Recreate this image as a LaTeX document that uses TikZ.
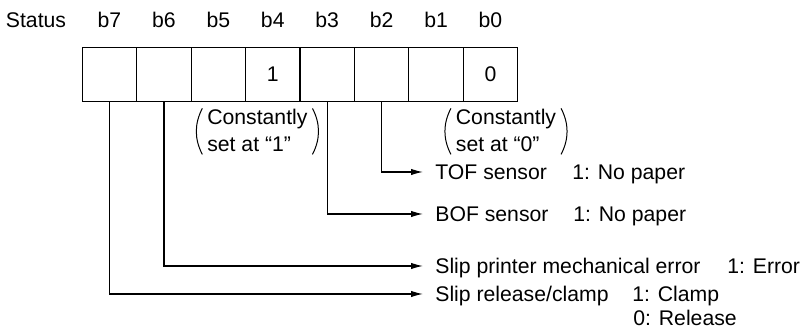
\documentclass[tikz,border=0pt]{standalone}
\usepackage{fontspec}
\setmainfont{Liberation Sans}
\usetikzlibrary{arrows.meta}

\tikzset{
  cell/.style={draw, line width=0.6pt, minimum width=27.2pt, minimum height=27pt, inner sep=0pt},
  hdr/.style={inner sep=0pt},
  desc/.style={anchor=west, inner xsep=6pt, inner ysep=0pt, text height=7.5pt, text depth=0pt},
  val/.style={anchor=west, inner sep=0pt, text height=7.5pt, text depth=0pt},
  note/.style={inner xsep=5.3pt, inner ysep=0pt, align=left},
  paren/.style={line width=0.5pt},
  wire/.style={line width=0.6pt, -{Latex[length=6pt,width=3.2pt]}},
}

\begin{document}
\begin{tikzpicture}[x=0.5pt, y=-0.5pt]
  \fontsize{10.6}{13.5}\selectfont
  \useasboundingbox (0,0) rectangle (800,330);

  % status byte, b7 at the left
  \node[hdr] (hs) at (36,20) {Status};
  \foreach \i/\v in {7/,6/,5/,4/1,3/,2/,1/,0/0} {
    \node[cell] (c\i) at ({490.5-54.43*\i},74.7) {\v};
    \node[hdr]  (h\i) at ({490.5-54.43*\i},20) {b\i};
  }

  % fixed bits, with thin brackets round them
  \node[note] (n4) at (257.4,132.4) {\begin{tabular}{@{}l@{}}Constantly\\set at “1”\end{tabular}};
  \node[note] (n0) at (506,132.4) {\begin{tabular}{@{}l@{}}Constantly\\set at “0”\end{tabular}};
  \foreach \n in {n4,n0} {
    \draw[paren] ([xshift=3pt,yshift=12pt]\n.west) .. controls ([xshift=-1pt,yshift=4.3pt]\n.west) and ([xshift=-1pt,yshift=-3.3pt]\n.west) .. ([xshift=3pt,yshift=-11pt]\n.west);
    \draw[paren] ([xshift=-3pt,yshift=12pt]\n.east) .. controls ([xshift=1pt,yshift=4.3pt]\n.east) and ([xshift=1pt,yshift=-3.3pt]\n.east) .. ([xshift=-3pt,yshift=-11pt]\n.east);
  }

  % bit meanings
  \node[desc] (tof) at (423,172) {TOF sensor};
  \node[val]  (tofv) at (572,172) {1: No paper};
  \node[desc] (bof) at (423,214) {BOF sensor};
  \node[val]  (bofv) at (573,214) {1: No paper};
  \node[desc] (mech) at (423,266) {Slip printer mechanical error};
  \node[val]  (mechv) at (727,266) {1: Error};
  \node[desc] (clamp) at (423,294) {Slip release/clamp};
  \node[val]  (clampv) at (632,294) {1: Clamp};
  \node[val]  (relv) at (633,318) {0: Release};

  \draw[wire] (c2.south) |- (tof.west);
  \draw[wire] (c3.south) |- (bof.west);
  \draw[wire] (c6.south) |- (mech.west);
  \draw[wire] (c7.south) |- (clamp.west);
\end{tikzpicture}
\end{document}
